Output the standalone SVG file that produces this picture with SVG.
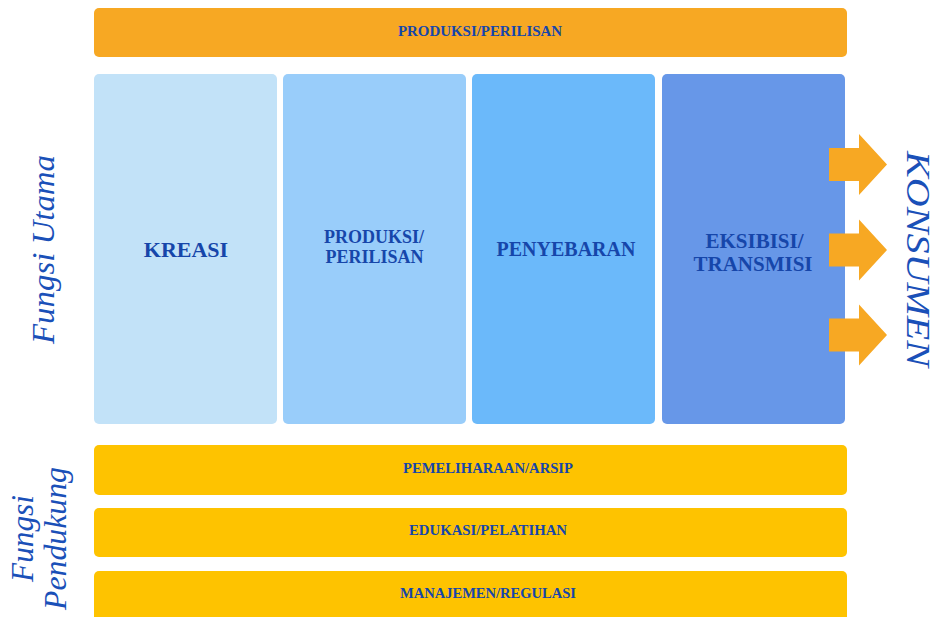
<svg xmlns="http://www.w3.org/2000/svg" width="935" height="617" viewBox="0 0 935 617">
  <style>
    .bar-top { fill: #F7A823; }
    .bar-sup { fill: #FEC300; }
    .lbl { font-family: "Liberation Serif", "Times New Roman", serif; font-weight: bold; fill: #1646AA; text-anchor: middle; }
    .bar-lbl { font-size: 14.5px; }
    .side { font-family: "Liberation Serif", "Times New Roman", serif; font-style: italic; fill: #1A50B8; text-anchor: middle; }
    .arrow { fill: #F7A823; }
  </style>
  <defs>
    <polygon id="block-arrow" points="0,-16.5 30,-16.5 30,-30.5 58,0 30,30.5 30,16.5 0,16.5"/>
  </defs>
  <rect width="935" height="617" fill="#FFFFFF"/>

  <!-- top band -->
  <g id="produksi-bar">
    <rect class="bar-top" x="94" y="8" width="753" height="49" rx="5"/>
    <text class="lbl bar-lbl" x="480" y="36" textLength="164" lengthAdjust="spacingAndGlyphs">PRODUKSI/PERILISAN</text>
  </g>

  <!-- main function columns -->
  <g id="kreasi">
    <rect x="94" y="74" width="183" height="350" rx="5" fill="#C2E2F8"/>
    <text class="lbl" x="186" y="257" font-size="22">KREASI</text>
  </g>
  <g id="produksi">
    <rect x="283" y="74" width="183" height="350" rx="5" fill="#99CDFA"/>
    <text class="lbl" x="374" y="243" font-size="18">PRODUKSI/</text>
    <text class="lbl" x="374.5" y="263" font-size="18">PERILISAN</text>
  </g>
  <g id="penyebaran">
    <rect x="472" y="74" width="183" height="350" rx="5" fill="#6BB9FA"/>
    <text class="lbl" x="566" y="256" font-size="20">PENYEBARAN</text>
  </g>
  <g id="eksibisi">
    <rect x="662" y="74" width="183" height="350" rx="5" fill="#6797E8"/>
    <text class="lbl" x="754.5" y="248" font-size="21">EKSIBISI/</text>
    <text class="lbl" x="753" y="271" font-size="21">TRANSMISI</text>
  </g>

  <!-- flow toward consumers -->
  <g id="connectors">
    <use href="#block-arrow" class="arrow" x="829" y="164.5"/>
    <use href="#block-arrow" class="arrow" x="829" y="250"/>
    <use href="#block-arrow" class="arrow" x="829" y="335"/>
  </g>

  <g id="konsumen">
    <text class="side" transform="translate(907,259) rotate(90)" font-size="33" textLength="216" lengthAdjust="spacingAndGlyphs">KONSUMEN</text>
  </g>

  <!-- supporting functions -->
  <g id="pemeliharaan">
    <rect class="bar-sup" x="94" y="445" width="753" height="50" rx="5"/>
    <text class="lbl bar-lbl" x="488" y="473" textLength="170" lengthAdjust="spacingAndGlyphs">PEMELIHARAAN/ARSIP</text>
  </g>
  <g id="edukasi">
    <rect class="bar-sup" x="94" y="508" width="753" height="49" rx="5"/>
    <text class="lbl bar-lbl" x="488" y="535" textLength="158" lengthAdjust="spacingAndGlyphs">EDUKASI/PELATIHAN</text>
  </g>
  <g id="manajemen">
    <rect class="bar-sup" x="94" y="571" width="753" height="56" rx="5"/>
    <text class="lbl bar-lbl" x="488" y="598" textLength="176" lengthAdjust="spacingAndGlyphs">MANAJEMEN/REGULASI</text>
  </g>

  <!-- row captions -->
  <g id="fungsi-utama">
    <text class="side" transform="translate(54,249.5) rotate(-90)" font-size="31" textLength="189" lengthAdjust="spacingAndGlyphs">Fungsi Utama</text>
  </g>
  <g id="fungsi-pendukung">
    <text class="side" transform="translate(33,538.5) rotate(-90)" font-size="31" textLength="87" lengthAdjust="spacingAndGlyphs">Fungsi</text>
    <text class="side" transform="translate(66,538.5) rotate(-90)" font-size="31" textLength="143" lengthAdjust="spacingAndGlyphs">Pendukung</text>
  </g>
</svg>
